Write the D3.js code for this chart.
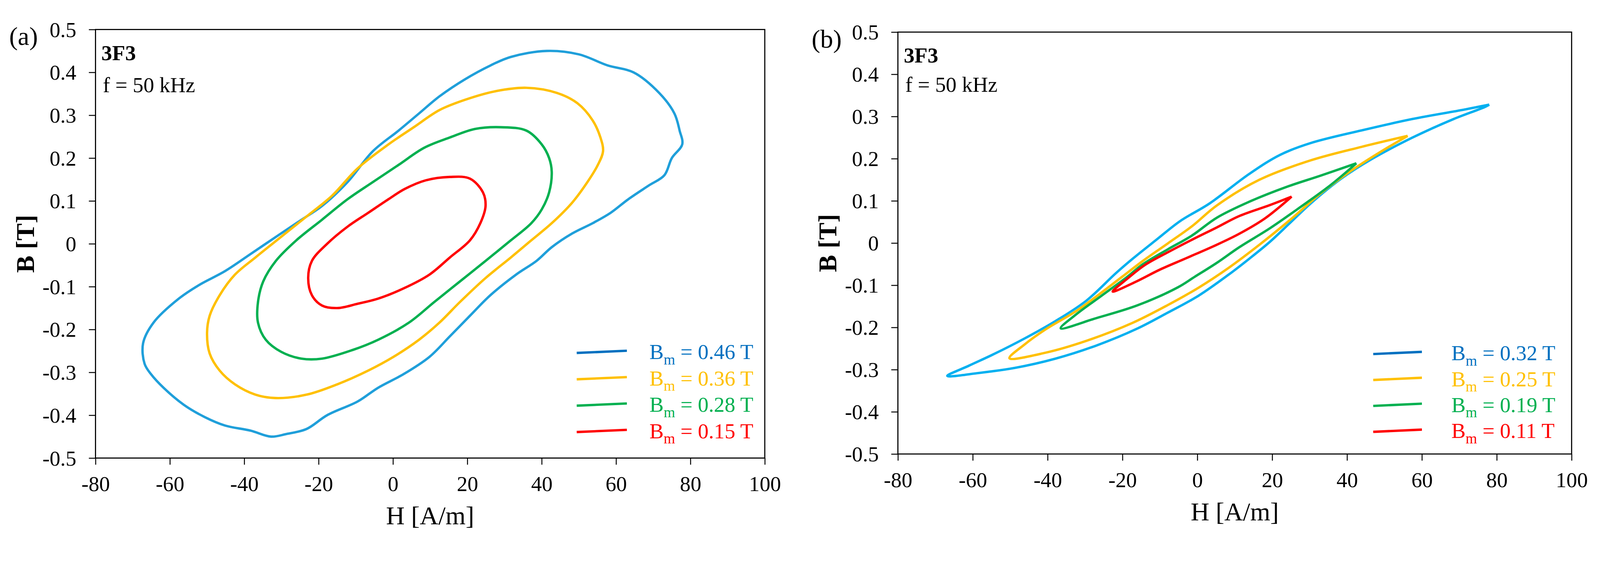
<!DOCTYPE html>
<html>
<head>
<meta charset="utf-8">
<script src="https://cdn.jsdelivr.net/npm/d3@7"></script>
<style>
  html, body { margin: 0; padding: 0; background: #fff; overflow: hidden; }
  svg { display: block; }
</style>
</head>
<body>
<div id="chart"></div>
<script>
// tick values
const hTicks = [-80, -60, -40, -20, 0, 20, 40, 60, 80, 100]
const bTicks = [-0.5, -0.4, -0.3, -0.2, -0.1, 0, 0.1, 0.2, 0.3, 0.4, 0.5]

// (a) loops, [H A/m, B T]
const loopA46 = [[41.4, 0.450], [50, 0.442], [57.8, 0.416], [64.7, 0.400], [71.6, 0.352], [75.7, 0.304],
  [77.1, 0.264], [77.8, 0.232], [75.0, 0.200], [73.0, 0.160], [68.8, 0.136], [63.3, 0.104], [58.5, 0.072],
  [53.7, 0.048], [48.2, 0.024], [42.7, -0.008], [38.6, -0.040], [33.1, -0.072], [26.2, -0.120], [20.7, -0.168],
  [15.3, -0.216], [9.8, -0.264], [2.9, -0.304], [-4.0, -0.336], [-9.5, -0.368], [-17.7, -0.400], [-23.2, -0.432],
  [-28.7, -0.444], [-32.8, -0.450], [-38.3, -0.436], [-45.2, -0.424], [-50.7, -0.404], [-56.2, -0.376],
  [-61.7, -0.336], [-65.1, -0.304], [-66.8, -0.280], [-67.2, -0.232], [-64.4, -0.184], [-57.6, -0.128],
  [-52.1, -0.096], [-45.2, -0.064], [-38.3, -0.024], [-31.5, 0.016], [-24.6, 0.056], [-19.1, 0.088],
  [-12.2, 0.144], [-5.4, 0.216], [1.5, 0.264], [7.0, 0.304], [12.5, 0.344], [19.4, 0.384], [26.2, 0.416],
  [31.7, 0.436]]
const loopA36 = [[35.9, 0.364], [44.1, 0.352], [49.6, 0.328], [53.7, 0.288], [55.8, 0.248], [56.5, 0.216],
  [55.1, 0.184], [52.3, 0.144], [48.2, 0.096], [42.7, 0.048], [37.2, 0.008], [31.7, -0.032], [24.9, -0.080],
  [18.0, -0.136], [12.5, -0.184], [7.0, -0.224], [0.1, -0.264], [-6.7, -0.296], [-15.0, -0.328], [-23.2, -0.352],
  [-31.5, -0.360], [-37.0, -0.352], [-42.5, -0.328], [-46.6, -0.296], [-49.3, -0.256], [-50.0, -0.208],
  [-49.3, -0.168], [-46.6, -0.120], [-42.5, -0.072], [-37.0, -0.032], [-30.1, 0.016], [-23.2, 0.064],
  [-16.4, 0.112], [-9.5, 0.176], [-1.2, 0.232], [5.6, 0.272], [12.5, 0.312], [19.4, 0.336], [27.6, 0.356]]
const loopA28 = [[29.0, 0.272], [35.9, 0.264], [40.0, 0.232], [42.0, 0.200], [42.7, 0.168], [42.0, 0.120],
  [40.0, 0.080], [37.2, 0.048], [31.7, 0.008], [24.9, -0.040], [18.0, -0.088], [11.1, -0.136], [4.3, -0.184],
  [-4.0, -0.224], [-10.9, -0.248], [-19.1, -0.268], [-24.6, -0.268], [-30.1, -0.252], [-34.2, -0.224],
  [-36.3, -0.184], [-36.3, -0.136], [-34.9, -0.088], [-31.5, -0.040], [-26.0, 0.008], [-19.1, 0.056],
  [-12.2, 0.104], [-5.4, 0.144], [1.5, 0.184], [8.4, 0.224], [15.3, 0.248], [22.1, 0.268]]
const loopA15 = [[15.3, 0.156], [20.7, 0.152], [24.2, 0.120], [24.9, 0.088], [23.5, 0.048], [20.7, 0.008],
  [15.3, -0.032], [9.8, -0.072], [2.9, -0.104], [-4.0, -0.128], [-9.5, -0.140], [-15.0, -0.150], [-19.1, -0.144],
  [-21.8, -0.120], [-22.8, -0.080], [-21.8, -0.040], [-17.7, 0.000], [-12.2, 0.040], [-6.7, 0.072],
  [-1.2, 0.104], [3.2, 0.128], [8.8, 0.148]]

// (b) loops, tip -> upper branch -> tip -> lower branch -> tip
const loopB32 = [[78.0, 0.328], [71.2, 0.316], [57.5, 0.294], [43.9, 0.267], [30.3, 0.237], [22.1, 0.209],
  [13.9, 0.164], [3.3, 0.094], [-4.6, 0.052], [-10.9, 0.008], [-17.1, -0.036], [-21.7, -0.071],
  [-29.7, -0.137], [-37.9, -0.185], [-46.1, -0.226], [-54.3, -0.263], [-61.1, -0.291], [-66.8, -0.315],
  [-58.4, -0.308], [-48.8, -0.296], [-37.9, -0.274], [-27.0, -0.243], [-16.1, -0.203], [-7.9, -0.165],
  [0.3, -0.125], [8.5, -0.074], [13.9, -0.037], [19.4, 0.003], [24.8, 0.048], [30.3, 0.094], [38.5, 0.153],
  [46.6, 0.199], [57.5, 0.250], [68.5, 0.294], [76.7, 0.322], [78.0, 0.328]]
const loopB25 = [[56.2, 0.254], [43.9, 0.228], [30.3, 0.196], [16.6, 0.150], [5.2, 0.089], [-1.4, 0.040],
  [-7.9, -0.001], [-14.5, -0.042], [-20.1, -0.080], [-26.0, -0.120], [-32.5, -0.162], [-40.6, -0.205],
  [-46.1, -0.240], [-50.2, -0.273], [-40.6, -0.260], [-29.7, -0.232], [-17.5, -0.190], [-7.9, -0.147],
  [0.3, -0.106], [8.5, -0.058], [16.6, -0.004], [24.8, 0.055], [33.0, 0.118], [41.2, 0.172], [49.3, 0.218],
  [56.2, 0.254]]
const loopB19 = [[42.5, 0.189], [33.0, 0.160], [23.5, 0.132], [13.9, 0.098], [5.2, 0.060], [-1.4, 0.018],
  [-7.9, -0.015], [-14.5, -0.050], [-19.0, -0.082], [-25.6, -0.125], [-32.5, -0.170], [-36.5, -0.202],
  [-27.0, -0.178], [-16.1, -0.148], [-5.2, -0.105], [-0.7, -0.080], [5.2, -0.047], [11.2, -0.010],
  [19.4, 0.035], [27.5, 0.085], [35.7, 0.138], [42.5, 0.189]]
const loopB11 = [[25.2, 0.110], [19.4, 0.090], [11.2, 0.064], [5.2, 0.037], [-1.4, 0.008], [-7.9, -0.022],
  [-14.0, -0.052], [-18.5, -0.083], [-22.6, -0.115], [-16.5, -0.092], [-10.0, -0.063], [-3.0, -0.036],
  [5.2, -0.004], [11.2, 0.022], [18.0, 0.058], [25.2, 0.110]]

const legendA = ["0.46", "0.36", "0.28", "0.15"]
const legendB = ["0.32", "0.25", "0.19", "0.11"]
const material = "3F3"
const freqText = "f = 50 kHz"

const font = "'Liberation Serif', 'Times New Roman', serif"
const legendColors = ["#0070c0", "#ffc000", "#00b050", "#ff0000"]

const W = 4339, H = 1459
const svg = d3.select('#chart')
  .append('svg')
  .attr('viewBox', `0 0 ${W} ${H}`)
  .attr('preserveAspectRatio', 'xMidYMin meet')
  .style('width', '100vw')
  .style('height', '100vh')

svg.append("rect").attr("width", W).attr("height", H).attr("fill", "#fff")

const panels = [
  {
    tag: "(a)", left: 259, right: 2074, top: 80, bottom: 1242,
    loops: [loopA46, loopA36, loopA28, loopA15], closed: true,
    colors: ["#1f9fda", "#ffc000", "#00b050", "#ff0000"], legend: legendA,
    leg: {x1: 1564, x2: 1700, tx: 1761, y0: 954, dy: 71.5}, fy: 170
  },
  {
    tag: "(b)", left: 2435, right: 4262, top: 87, bottom: 1231,
    loops: [loopB32, loopB25, loopB19, loopB11], closed: false,
    colors: ["#00b0f0", "#ffc000", "#00b050", "#ff0000"], legend: legendB,
    leg: {x1: 3724, x2: 3856, tx: 3936, y0: 957, dy: 70.3}, fy: 162
  }
]

panels.forEach(p => {
  const x = d3.scaleLinear([-80, 100], [p.left, p.right])
  const y = d3.scaleLinear([-0.5, 0.5], [p.bottom, p.top])
  const g = svg.append("g")

  const line = d3.line()
    .x(d => x(d[0]))
    .y(d => y(d[1]))
    .curve(p.closed ? d3.curveCatmullRomClosed.alpha(0.5) : d3.curveCatmullRom.alpha(0.5))

  g.append("g")
    .selectAll("path")
    .data(p.loops)
    .join("path")
    .attr("fill", "none")
    .attr("stroke", (d, i) => p.colors[i])
    .attr("stroke-width", 6.5)
    .attr("stroke-linejoin", "round")
    .attr("d", line)

  // frame
  g.append("rect")
    .attr("x", p.left).attr("y", p.top)
    .attr("width", p.right - p.left).attr("height", p.bottom - p.top)
    .attr("fill", "none").attr("stroke", "#000").attr("stroke-width", 3)

  const xAxis = g.append("g")
    .attr("transform", `translate(0,${p.bottom})`)
    .call(d3.axisBottom(x).tickValues(hTicks).tickSize(18).tickFormat(d => String(d)))
  const yAxis = g.append("g")
    .attr("transform", `translate(${p.left},0)`)
    .call(d3.axisLeft(y).tickValues(bTicks).tickSize(18).tickFormat(d => String(d)))

  ;[xAxis, yAxis].forEach(a => {
    a.select(".domain").remove()
    a.selectAll("line").attr("stroke", "#000").attr("stroke-width", 2.6)
    a.selectAll("text")
      .attr("fill", "#000")
      .attr("font-family", font)
      .attr("font-size", 58)
  })
  xAxis.selectAll("text").attr("y", 90).attr("dy", 0)
  yAxis.selectAll("text").attr("x", -52).attr("dy", "0.34em")

  g.append("text")
    .attr("x", (p.left + p.right) / 2).attr("y", p.bottom + 180)
    .attr("text-anchor", "middle")
    .attr("font-family", font).attr("font-size", 70)
    .text("H [A/m]")

  g.append("text")
    .attr("transform", `translate(${p.left - 167},${(p.top + p.bottom) / 2}) rotate(-90)`)
    .attr("text-anchor", "middle")
    .attr("font-family", font).attr("font-size", 70).attr("font-weight", "bold")
    .text("B [T]")

  g.append("text")
    .attr("x", p.left - 234).attr("y", p.top + 42)
    .attr("font-family", font).attr("font-size", 70)
    .text(p.tag)

  g.append("text")
    .attr("x", p.left + 16).attr("y", p.top + 83)
    .attr("font-family", font).attr("font-size", 58).attr("font-weight", "bold")
    .text(material)

  g.append("text")
    .attr("x", p.left + 20).attr("y", p.top + p.fy)
    .attr("font-family", font).attr("font-size", 58)
    .text(freqText)

  // legend
  const leg = g.append("g")
    .selectAll("g")
    .data(p.legend)
    .join("g")
    .attr("transform", (d, i) => `translate(0,${p.leg.y0 + i * p.leg.dy})`)

  leg.append("path")
    .attr("fill", "none")
    .attr("stroke", (d, i) => legendColors[i])
    .attr("stroke-width", 6.5)
    .attr("d", `M${p.leg.x1},3L${p.leg.x2},-3`)

  const t = leg.append("text")
    .attr("x", p.leg.tx).attr("y", 20)
    .attr("fill", (d, i) => legendColors[i])
    .attr("font-family", font).attr("font-size", 58)
  t.append("tspan").text("B")
  t.append("tspan").attr("font-size", 40).attr("dy", 14).text("m")
  t.append("tspan").attr("dy", -14).text(d => ` = ${d} T`)
})
</script>
</body>
</html>
